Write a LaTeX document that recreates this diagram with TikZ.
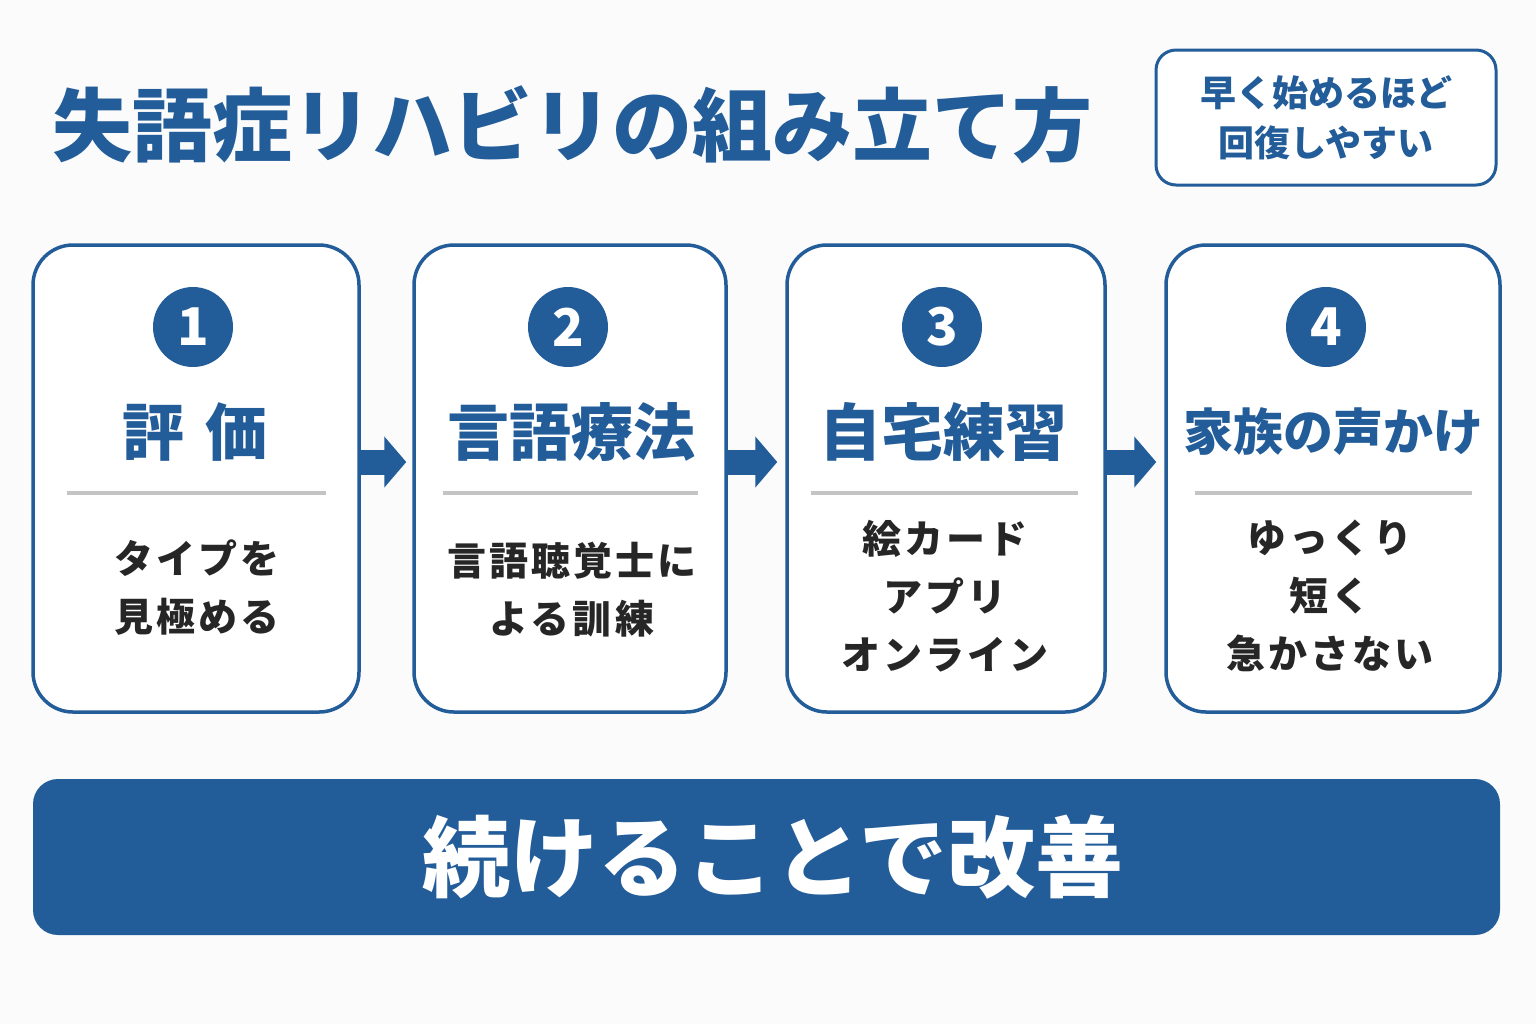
\documentclass[tikz,border=0pt]{standalone}
\usepackage{fontspec}
\setmainfont{Noto Sans CJK JP}
\usetikzlibrary{arrows.meta,calc}
\definecolor{blu}{HTML}{225C99}
\definecolor{bg}{HTML}{FBFBFB}
\definecolor{rule}{HTML}{C4C4C4}
\definecolor{ink}{HTML}{262626}
\begin{document}
\begin{tikzpicture}[x=0.5pt,y=-0.5pt,
  card/.style={draw=blu,line width=1.75pt,fill=white,rounded corners=20pt,minimum height=233.5pt,inner sep=0pt},
  num/.style={circle,fill=blu,minimum size=40pt,inner sep=0pt,text=white,font=\bfseries\fontsize{26pt}{26pt}\selectfont},
  head/.style={text=blu,font=\bfseries\fontsize{31pt}{31pt}\selectfont,inner sep=0pt},
  body/.style={text=ink,align=center,inner sep=0pt,font=\bfseries\fontsize{19.5pt}{29pt}\selectfont\addfontfeatures{LetterSpace=8}},
  sep/.style={draw=rule,line width=2pt},
  flow/.style={draw=blu,fill=blu,line width=12.5pt,-{Triangle[length=11pt,width=25pt]}}
]
\useasboundingbox[fill=bg] (0,0) rectangle (1536,1024);
% title
\node[anchor=west,text=blu,inner sep=0pt,font=\bfseries\fontsize{40pt}{40pt}\selectfont] (title) at (52,125) {失語症リハビリの組み立て方};
% note box
\node[draw=blu,line width=1.5pt,fill=white,rounded corners=10pt,minimum width=170pt,minimum height=67.5pt,align=center,text=blu,font=\bfseries\fontsize{18pt}{25pt}\selectfont] (note) at (1326,117.5) {早く始めるほど\\回復しやすい};
% cards
\node[card,minimum width=163pt] (c1) at (196,478.5) {};
\node[card,minimum width=156pt] (c2) at (570,478.5) {};
\node[card,minimum width=159pt] (c3) at (946,478.5) {};
\node[card,minimum width=167pt] (c4) at (1333,478.5) {};
% numbers
\node[num] (n1) at (193,327) {1};
\node[num] (n2) at (568,327) {2};
\node[num] (n3) at (942,327) {3};
\node[num] (n4) at (1326,327) {4};
% headings
\node[head] (h1) at (195,432) {評\hspace{0.35em}価};
\node[head] (h2) at (571,432) {言語療法};
\node[head] (h3) at (943,432) {自宅練習};
\node[head,font=\bfseries\fontsize{25pt}{25pt}\selectfont] (h4) at (1333,432) {家族の声かけ};
% separators
\draw[sep] (67,493) -- (326,493);
\draw[sep] (443,493) -- (698,493);
\draw[sep] (811,493) -- (1078,493);
\draw[sep] (1195,493) -- (1472,493);
% bodies
\node[body] (b1) at (197,588) {タイプを\\見極める};
\node[body] (b2) at (572,590) {言語聴覚士に\\よる訓練};
\node[body] (b3) at (945,596) {絵カード\\アプリ\\オンライン};
\node[body] (b4) at (1330,596) {ゆっくり\\短く\\急かさない};
% arrows
\coordinate (a1s) at ($(c1.east)+(0,-16.5)$);
\coordinate (a1e) at ($(c2.west)+(-6,-16.5)$);
\coordinate (a2s) at ($(c2.east)+(0,-16.5)$);
\coordinate (a2e) at ($(c3.west)+(-8,-16.5)$);
\coordinate (a3s) at ($(c3.east)+(0,-16.5)$);
\coordinate (a3e) at ($(c4.west)+(-8,-16.5)$);
\draw[flow] (a1s) -- (a1e);
\draw[flow] (a2s) -- (a2e);
\draw[flow] (a3s) -- (a3e);
% banner
\node[fill=blu,rounded corners=12.5pt,minimum width=733.5pt,minimum height=78pt,inner sep=0pt] (ban) at (766.5,857) {};
\node[text=white,inner sep=0pt,font=\bfseries\fontsize{44pt}{44pt}\selectfont] (bt) at (773,857) {続けることで改善};
\end{tikzpicture}
\end{document}
